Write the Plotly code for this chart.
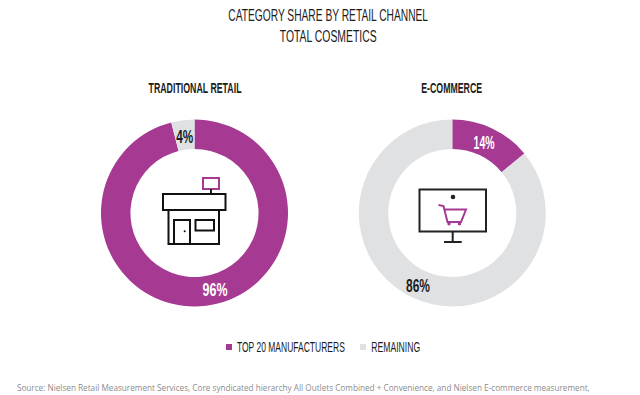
import json
import plotly.graph_objects as go

W, H = 640, 395
labels = ["TOP 20 MANUFACTURERS", "REMAINING"]
traditional = [96, 4]
ecommerce = [14, 86]
PURPLE, GREY = "#A63A93", "#E0E1E3"
COND = "'Liberation Sans', Arial, sans-serif"
INK = "#1c1c1c"
SOURCE = "Source: Nielsen Retail Measurement Services, Core syndicated hierarchy All Outlets Combined + Convenience, and Nielsen E-commerce measurement,"

def px(x): return x / W
def py(y): return 1 - y / H

fig = go.Figure()
def donut(vals, cx, cy, r=93.5):
    fig.add_trace(go.Pie(labels=labels, values=vals, sort=False, direction="clockwise", rotation=0,
                         hole=0.685, textinfo="none", hoverinfo="label+percent", showlegend=False,
                         marker=dict(colors=[PURPLE, GREY], line=dict(width=0)),
                         domain=dict(x=[px(cx - r), px(cx + r)], y=[py(cy + r), py(cy - r)])))
donut(traditional, 194.5, 213)
donut(ecommerce, 452.3, 213)

widths = {}
def text(t, x, y, size, width, color=INK, font=COND, bold=False):
    widths[t] = width
    fig.add_annotation(text=f"<b>{t}</b>" if bold else t, x=px(x), y=py(y), xref="paper", yref="paper",
                       showarrow=False, xanchor="center", yanchor="middle", align="center",
                       font=dict(family=font, size=size, color=color))

text("CATEGORY SHARE BY RETAIL CHANNEL", 328, 16, 17, 200)
text("TOTAL COSMETICS", 328, 36, 17, 97)
text("TRADITIONAL RETAIL", 194.5, 88.5, 14, 93, bold=True)
text("E-COMMERCE", 451.5, 88.5, 14, 61, bold=True)
text(f"{traditional[1]}%", 184.5, 136, 19, 17, bold=True)
text(f"{traditional[0]}%", 215, 289.5, 19, 25, "#ffffff", bold=True)
text(f"{ecommerce[0]}%", 484, 142.5, 19, 21, "#ffffff", bold=True)
text(f"{ecommerce[1]}%", 417.5, 285.5, 19, 24, bold=True)
text(labels[0], 291, 347, 14, 108)
text(labels[1], 395.5, 347, 14, 49)
text(SOURCE, 303.5, 387, 8.2, 573, "#8c8c8c", "'Open Sans', sans-serif")

def rect(x0, y0, x1, y1, line=None, fill=None, w=2):
    fig.add_shape(type="rect", xref="paper", yref="paper", x0=px(x0), x1=px(x1), y0=py(y0), y1=py(y1),
                  line=dict(color=line or "rgba(0,0,0,0)", width=w if line else 0), fillcolor=fill or "rgba(0,0,0,0)")
def path(points, line=INK, w=2):
    d = "M" + " L".join(f"{px(x):.5f},{py(y):.5f}" for x, y in points)
    fig.add_shape(type="path", xref="paper", yref="paper", path=d, line=dict(color=line, width=w))
def dot(cx, cy, r, color=INK):
    fig.add_shape(type="circle", xref="paper", yref="paper", x0=px(cx-r), x1=px(cx+r), y0=py(cy+r), y1=py(cy-r),
                  line=dict(width=0), fillcolor=color)

# legend swatches
rect(226, 344, 232, 350, fill=PURPLE)
rect(360, 344, 366, 350, fill=GREY)

# store icon
rect(203, 178, 219, 189, line=PURPLE)
path([(211, 189), (211, 194)])
rect(163, 194, 225.5, 210, line="#111111")
path([(168.5, 210), (168.5, 244), (219, 244), (219, 210)], "#111111")
rect(174, 220, 190, 244, line="#111111")
dot(184.7, 231.3, 1, "#111111")
rect(195.5, 220, 214, 230.5, line="#111111")

# monitor + cart icon
rect(419.5, 189.5, 486, 231.5, line="#222222")
dot(453, 197, 2.3, "#222222")
path([(452.7, 231.5), (452.7, 242)], "#222222")
path([(444, 242), (461.7, 242)], "#222222")
path([(438.5, 205), (443.5, 206), (447.5, 222), (461, 222), (466, 209.5), (444.5, 209.5)], PURPLE)
dot(449, 223.8, 1.7, PURPLE)
dot(459.5, 223.8, 1.7, PURPLE)

fig.update_layout(width=W, height=H, margin=dict(l=0, r=0, t=0, b=0), paper_bgcolor="#ffffff",
                  plot_bgcolor="#ffffff", showlegend=False)

# The page's default margin would shift the chart; narrow the text to the reference's condensed widths.
post = """
document.body.style.margin = '0';
var w = %s;
document.querySelectorAll('.annotation-text').forEach(function (n) {
  var k = n.textContent;
  if (w[k]) {
    var r = w[k] / n.getComputedTextLength();
    n.style.transformBox = 'fill-box';
    n.style.transformOrigin = 'center';
    n.style.transform = 'scaleX(' + r + ')';
  }
});
""" % json.dumps(widths)
fig.write_html("out.html", post_script=post, config={"displayModeBar": False})
